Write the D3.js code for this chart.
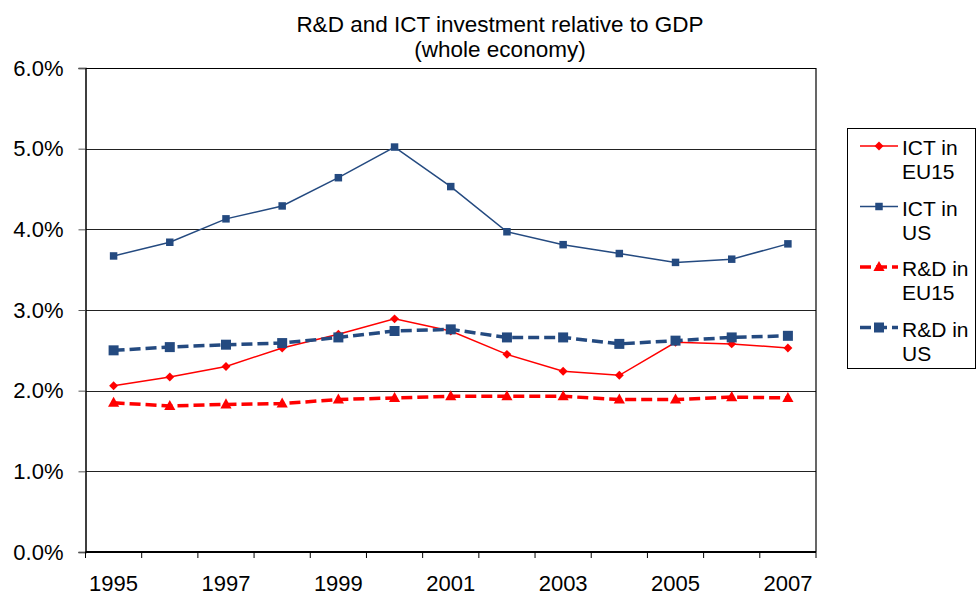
<!DOCTYPE html>
<html>
<head>
<meta charset="utf-8">
<script src="https://cdn.jsdelivr.net/npm/d3@7"></script>
<style>
  body { margin: 0; background: #fff; }
  svg { font-family: "Liberation Sans", Arial, sans-serif; }
</style>
</head>
<body>
<script>
// values (share of GDP, %)
const years = ["1995","1996","1997","1998","1999","2000","2001","2002","2003","2004","2005","2006","2007"];
const ictEU15 = [2.06, 2.17, 2.30, 2.53, 2.70, 2.89, 2.74, 2.45, 2.24, 2.19, 2.60, 2.58, 2.53];
const ictUS   = [3.67, 3.84, 4.13, 4.29, 4.64, 5.02, 4.53, 3.97, 3.81, 3.70, 3.59, 3.63, 3.82];
const rdEU15  = [1.85, 1.81, 1.83, 1.84, 1.89, 1.91, 1.93, 1.93, 1.93, 1.89, 1.89, 1.92, 1.91];
const rdUS    = [2.50, 2.54, 2.57, 2.59, 2.66, 2.74, 2.76, 2.66, 2.66, 2.58, 2.62, 2.66, 2.68];
const yTicks = [0, 1, 2, 3, 4, 5, 6];
const xLabels = ["1995","1997","1999","2001","2003","2005","2007"];

const navy = "#244a80", red = "#ff0000";

const series = [
  {name: ["ICT in", "EU15"], values: ictEU15, color: red,  width: 1.5, dash: null,   marker: "diamond",  size: 40},
  {name: ["ICT in", "US"],   values: ictUS,   color: navy, width: 1.5, dash: null,   marker: "square",   size: 56},
  {name: ["R&D in", "EU15"], values: rdEU15,  color: red,  width: 3.5, dash: "11,5", marker: "triangle", size: 80},
  {name: ["R&D in", "US"],   values: rdUS,    color: navy, width: 3.5, dash: "11,5", marker: "square",   size: 100}
];

const W = 979, H = 598;
const m = {left: 85.5, right: 816, top: 68, bottom: 552};

const svg = d3.select("body").append("svg")
    .attr("width", W).attr("height", H);

const x = d3.scaleBand().domain(years).range([m.left, m.right]);
const y = d3.scaleLinear().domain([0, 6]).range([m.bottom, m.top]);

// title
svg.append("text")
    .attr("x", 500).attr("y", 32)
    .attr("text-anchor", "middle")
    .attr("font-size", 22.5)
    .text("R&D and ICT investment relative to GDP");
svg.append("text")
    .attr("x", 500).attr("y", 57)
    .attr("text-anchor", "middle")
    .attr("font-size", 22.5)
    .text("(whole economy)");

// gridlines
svg.append("g")
    .selectAll("line")
    .data(yTicks.filter(d => d > 0))
    .join("line")
    .attr("x1", m.left).attr("x2", m.right)
    .attr("y1", d => Math.round(y(d)) + 0.5).attr("y2", d => Math.round(y(d)) + 0.5)
    .attr("stroke", d => d === 6 ? "#000" : "#222")
    .attr("stroke-width", 1.2);

// right border
svg.append("line")
    .attr("x1", m.right).attr("x2", m.right)
    .attr("y1", m.top).attr("y2", m.bottom)
    .attr("stroke", "#000").attr("stroke-width", 1.2);

// y axis
const yAxis = svg.append("g")
    .attr("transform", `translate(${m.left},0)`)
    .call(d3.axisLeft(y).tickValues(yTicks).tickSize(7).tickPadding(15)
        .tickFormat(d => d.toFixed(1) + "%"));
yAxis.select(".domain").attr("stroke", "#000").attr("stroke-width", 1.5);
yAxis.selectAll(".tick line").attr("stroke", "#555");
yAxis.selectAll("text").attr("font-size", 22).attr("fill", "#000")
    .attr("font-family", "'Liberation Sans', Arial, sans-serif");

// x axis: ticks at category boundaries, labels every other year
const xAxis = svg.append("g")
    .attr("transform", `translate(0,${m.bottom})`);
xAxis.append("line")
    .attr("x1", m.left).attr("x2", m.right)
    .attr("stroke", "#000").attr("stroke-width", 2.2);
xAxis.selectAll("line.tick")
    .data(years.concat(["end"]))
    .join("line")
    .attr("class", "tick")
    .attr("x1", d => d === "end" ? m.right : x(d))
    .attr("x2", d => d === "end" ? m.right : x(d))
    .attr("y1", 0).attr("y2", 6)
    .attr("stroke", "#000").attr("stroke-width", 1);
xAxis.selectAll("text")
    .data(xLabels)
    .join("text")
    .attr("x", d => x(d) + x.bandwidth() / 2)
    .attr("y", 39)
    .attr("text-anchor", "middle")
    .attr("font-size", 22)
    .text(d => d);

function markerPath(type, size) {
  if (type === "diamond") {
    const r = Math.sqrt(size / 2) * 1.0;
    return `M0,${-r}L${r},0L0,${r}L${-r},0Z`;
  }
  if (type === "triangle") {
    const s = Math.sqrt(size) * 1.25, h = s * 0.9;
    return `M0,${-h * 0.6}L${s / 2},${h * 0.4}L${-s / 2},${h * 0.4}Z`;
  }
  return d3.symbol().type(d3.symbolSquare).size(size)();
}

const line = d3.line()
    .x((d, i) => x(years[i]) + x.bandwidth() / 2)
    .y(d => y(d));

const plot = svg.append("g");
series.forEach(s => {
  plot.append("path")
      .datum(s.values)
      .attr("fill", "none")
      .attr("stroke", s.color)
      .attr("stroke-width", s.width)
      .attr("stroke-dasharray", s.dash)
      .attr("d", line);
  plot.append("g")
      .selectAll("path")
      .data(s.values)
      .join("path")
      .attr("transform", (d, i) => `translate(${x(years[i]) + x.bandwidth() / 2},${y(d)})`)
      .attr("d", markerPath(s.marker, s.size))
      .attr("fill", s.color);
});

// legend
const legend = svg.append("g");
legend.append("rect")
    .attr("x", 847.5).attr("y", 128.5)
    .attr("width", 128).attr("height", 240)
    .attr("fill", "#fff").attr("stroke", "#000").attr("stroke-width", 1);

series.forEach((s, i) => {
  const ly = 146 + i * 60.5;
  const g = legend.append("g").attr("transform", `translate(0,${ly})`);
  g.append("line")
      .attr("x1", 860).attr("x2", 898)
      .attr("stroke", s.color)
      .attr("stroke-width", s.width)
      .attr("stroke-dasharray", s.dash);
  g.append("path")
      .attr("transform", "translate(879,0)")
      .attr("d", markerPath(s.marker, s.size))
      .attr("fill", s.color);
  s.name.forEach((t, j) => {
    g.append("text")
        .attr("x", 902).attr("y", 9 + j * 24)
        .attr("font-size", 21)
        .text(t);
  });
});
</script>
</body>
</html>
